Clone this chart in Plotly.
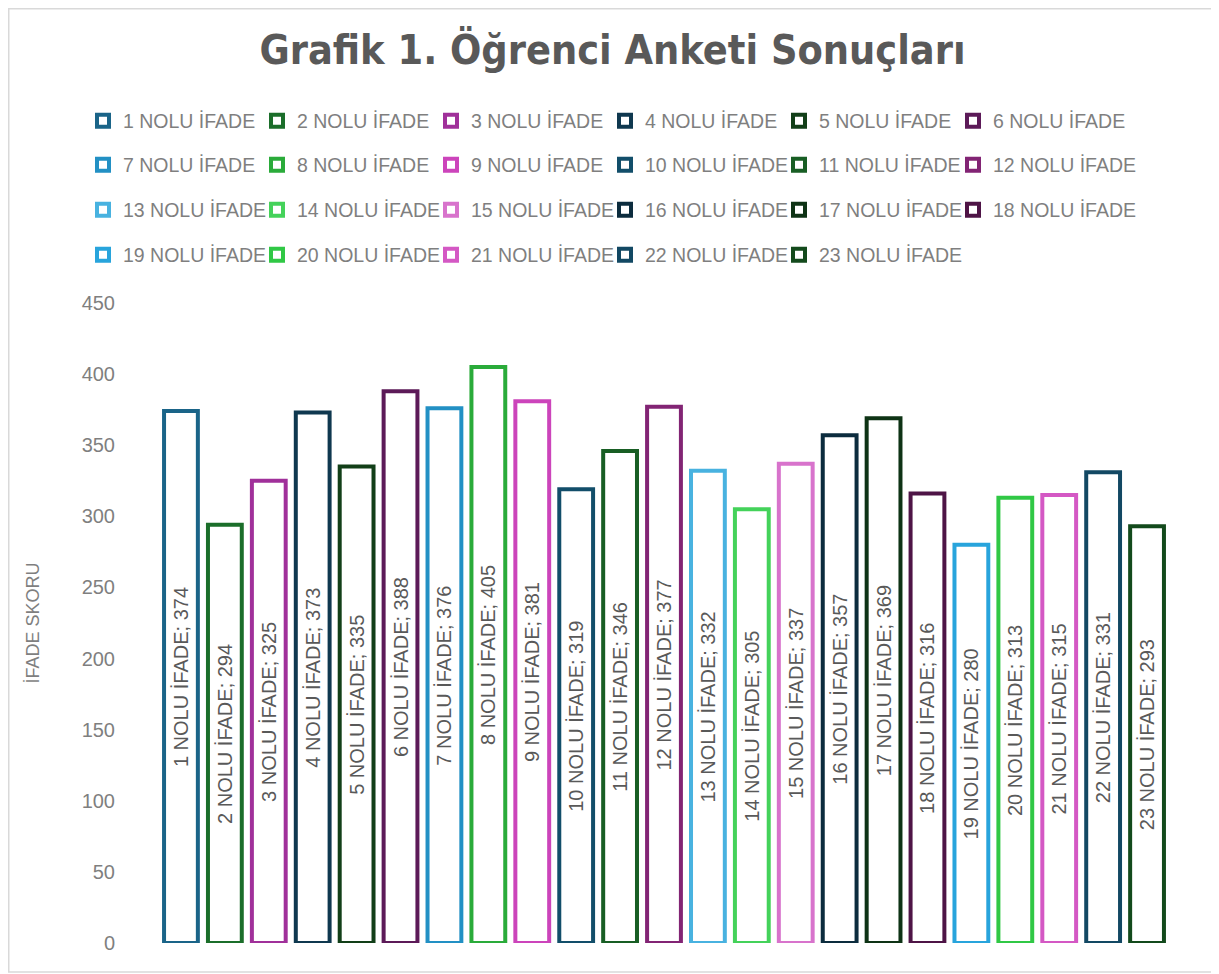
import plotly.graph_objects as go

categories = [f"{i} NOLU İFADE" for i in range(1, 24)]
values = [374, 294, 325, 373, 335, 388, 376, 405, 381, 319, 346, 377,
          332, 305, 337, 357, 369, 316, 280, 313, 315, 331, 293]
colors = ["#1a6488", "#1b6e2a", "#a0309a", "#0f384f", "#123f18", "#5c1a58",
          "#2290c4", "#2aab3a", "#cc44bb", "#124e6a", "#185e24", "#822474",
          "#48b2e0", "#44d25a", "#d873cc", "#0c2c3e", "#0e3315", "#4e1446",
          "#28a4dc", "#30c845", "#d458c4", "#124863", "#134a1c"]
y_ticks = [0, 50, 100, 150, 200, 250, 300, 350, 400, 450]

W, H = 1219, 974
ML, MR, MT, MB = 151, 58, 295, 39
PW, PH = W - ML - MR, H - MT - MB

# one legend per entry, laid out in a 6-column grid
row_y = [113, 157, 202, 247]
col_step = 174
legend_names = ["legend"] + [f"legend{k}" for k in range(2, len(categories) + 1)]

fig = go.Figure()
for i, (cat, val, col) in enumerate(zip(categories, values, colors)):
    fig.add_trace(go.Bar(
        x=[cat], y=[val], name=cat,
        marker=dict(color="white", line=dict(color=col, width=4)),
        text=[f"{cat}; {val}"], textposition="inside", insidetextanchor="middle",
        textangle=-90, constraintext="none",
        textfont=dict(family="Liberation Sans, Arial, sans-serif", size=20, color="#595959"),
        legend=legend_names[i],
        hoverinfo="x+y",
    ))

font_legend = dict(family="Liberation Sans, Arial, sans-serif", size=19.5, color="#7f7f7f")
layout_legends = {}
for k, name in enumerate(legend_names):
    row, col = divmod(k, 6)
    layout_legends[name] = dict(
        orientation="h", xref="container", yref="container",
        x=(75 + col * col_step) / W, xanchor="left",
        y=1 - row_y[row] / H, yanchor="middle",
        font=font_legend, bgcolor="rgba(0,0,0,0)",
    )

fig.update_layout(
    width=W, height=H,
    margin=dict(l=ML, r=MR, t=MT, b=MB, autoexpand=False),
    paper_bgcolor="white", plot_bgcolor="white",
    barmode="overlay", bargap=0.23,
    title=dict(text="<b>Grafik 1. Öğrenci Anketi Sonuçları</b>",
               font=dict(family="Liberation Sans Narrow, DejaVu Sans Condensed, sans-serif",
                         size=41, color="#595959"),
               x=604.5 / W, xref="container", xanchor="center",
               y=1 - 42 / H, yref="container", yanchor="middle"),
    xaxis=dict(showticklabels=False, showline=False, showgrid=False, zeroline=False,
               categoryorder="array", categoryarray=categories, range=[-0.5, 22.5]),
    yaxis=dict(range=[0, 450], tickvals=y_ticks, showgrid=False, zeroline=False,
               showline=False, ticklabelstandoff=43,
               tickfont=dict(family="Liberation Sans, Arial, sans-serif", size=20, color="#7f7f7f"),
               title=dict(text="İFADE SKORU", standoff=37,
                          font=dict(family="Liberation Sans Narrow, Liberation Sans, sans-serif",
                                    size=18, color="#7f7f7f"))),
    showlegend=True,
    **layout_legends,
)

# chart area border
fig.add_shape(type="rect", xref="paper", yref="paper",
              x0=(0.75 - ML) / PW, x1=(1208 - ML) / PW,
              y0=(H - MB - 964) / PH, y1=(H - MB - 0.75) / PH,
              line=dict(color="#d9d9d9", width=1.5), fillcolor="rgba(0,0,0,0)", layer="below")

fig.write_html("out.html")
